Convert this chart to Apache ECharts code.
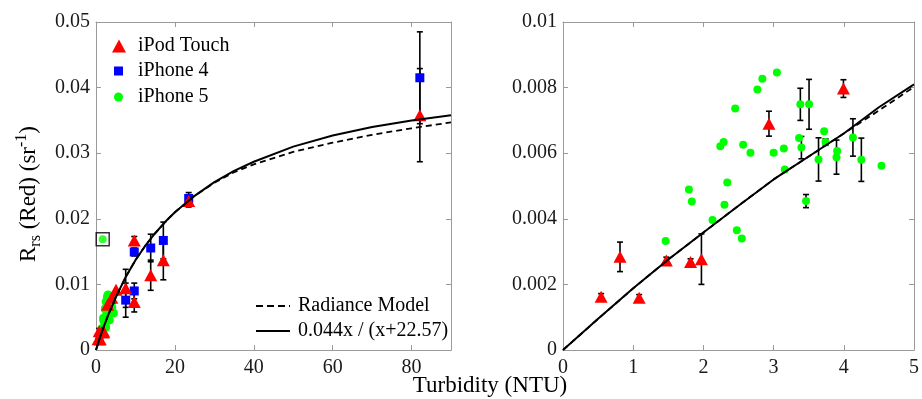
<!DOCTYPE html>
<html><head><meta charset="utf-8">
<script src="https://cdn.jsdelivr.net/npm/echarts@6/dist/echarts.min.js"></script>
<style>html,body{margin:0;padding:0;background:#fff}#c{width:922px;height:399px}</style>
</head><body><div id="c"></div>
<script>
// ---------- data ----------
const ipodX   = [0.543, 0.812, 1.085, 1.472, 1.817, 1.972, 2.934, 3.995, 5.07, 7.53, 9.7, 9.7, 13.87, 17.07, 23.5, 82.1];
const ipodY   = [0.00162, 0.00284, 0.00159, 0.00273, 0.00268, 0.00277, 0.0069, 0.00797, 0.0092, 0.0094, 0.0073, 0.0167, 0.0114, 0.0137, 0.0227, 0.0358];
const ipodErr = [0.0001, 0.00045, 0.0001, 0.0001, 0.0001, 0.00077, 0.00038, 0.00027, 0, 0.0029, 0.0015, 0.0006, 0.0023, 0.003, 0.0009, 0.0071];

const ip4X   = [7.53, 9.7, 9.7, 13.87, 17.07, 23.5, 82.1];
const ip4Y   = [0.0076, 0.009, 0.01494, 0.01555, 0.0167, 0.0231, 0.0415];
const ip4Err = [0.0026, 0.0012, 0.0006, 0.0021, 0.0028, 0.0009, 0.007];

const ip5X   = [1.462, 1.793, 1.835, 2.13, 2.241, 2.288, 2.30, 2.34, 2.453, 2.476, 2.547, 2.566, 2.67, 2.769, 2.84, 3.0,
                3.047, 3.146, 3.16, 3.363, 3.381, 3.396, 3.462, 3.505, 3.64, 3.72, 3.74, 3.905, 3.896, 4.13, 4.25, 4.537];
const ip5Y   = [0.00332, 0.00489, 0.00453, 0.00396, 0.00621, 0.00634, 0.00443, 0.00511, 0.00736, 0.00365, 0.0034, 0.00626, 0.00601, 0.00794, 0.00827, 0.00601,
                0.00846, 0.00614, 0.0055, 0.00646, 0.00749, 0.00617, 0.00454, 0.00749, 0.00581, 0.00667, 0.00634, 0.00607, 0.00588, 0.00648, 0.0058, 0.00562];
const ip5Err = [0, 0, 0, 0, 0, 0, 0, 0, 0, 0, 0, 0, 0, 0, 0, 0,
                0, 0, 0, 0, 0.00049, 0.00034, 0.0002, 0.00076, 0.00066, 0, 0.0001, 0, 0.00052, 0.00057, 0.00066, 0];

const outlierX = [1.7];
const outlierY = [0.0169];

const curveX  = [0, 1, 2, 3, 5, 7.5, 10, 12.5, 15, 17.5, 20, 25, 30, 35, 40, 50, 60, 70, 80, 90];
const fitY    = [0, 0.0019, 0.0036, 0.0052, 0.0080, 0.0111, 0.0137, 0.0159, 0.0178, 0.0195, 0.0210, 0.0235, 0.0256, 0.0273, 0.0287, 0.0310, 0.0327, 0.0340, 0.0350, 0.0358];
const modelY  = [0, 0.0019, 0.0036, 0.0052, 0.0080, 0.0111, 0.0137, 0.0159, 0.0178, 0.0195, 0.0210, 0.0235, 0.0255, 0.0271, 0.0283, 0.0302, 0.0316, 0.0328, 0.0338, 0.0347];

const curveXR = [0, 0.5, 1, 1.5, 2, 2.5, 3, 3.5, 4, 4.5, 5];
const fitYR   = [0, 0.00095, 0.00188, 0.00276, 0.00358, 0.0044, 0.0052, 0.0059, 0.0066, 0.0074, 0.0081];
const modelYR = [0, 0.00095, 0.00188, 0.00276, 0.00358, 0.0044, 0.0052, 0.0059, 0.0066, 0.0073, 0.00802];

const xTicksL = [0, 20, 40, 60, 80];
const xLabelsL = ['0', '20', '40', '60', '80'];
const yTicksL = [0, 0.01, 0.02, 0.03, 0.04, 0.05];
const yLabelsL = ['0', '0.01', '0.02', '0.03', '0.04', '0.05'];
const xTicksR = [0, 1, 2, 3, 4, 5];
const xLabelsR = ['0', '1', '2', '3', '4', '5'];
const yTicksR = [0, 0.002, 0.004, 0.006, 0.008, 0.01];
const yLabelsR = ['0', '0.002', '0.004', '0.006', '0.008', '0.01'];

// ---------- helpers ----------
const FONT = 'Liberation Serif';
const AXC = '#9a9a9a';
const TXT = '#1a1a1a';
function zip(xs, ys) { return xs.map((x, i) => [x, ys[i]]); }
function zip3(xs, ys, es) { return xs.map((x, i) => [x, ys[i], es[i]]); }
function inRight(p) { return p[0] <= 5 && p[1] <= 0.01; }
function fmt(ticks, labels) {
  return function (v) {
    for (let i = 0; i < ticks.length; i++) if (Math.abs(v - ticks[i]) < 1e-9) return labels[i];
    return '';
  };
}
function errRender(params, api) {
  const x = api.value(0), y = api.value(1), e = api.value(2);
  if (!e) return null;
  const t = api.coord([x, y + e]);
  const b = api.coord([x, y - e]);
  const c = 3;
  const st = { stroke: '#000', lineWidth: 1.6 };
  return { type: 'group', children: [
    { type: 'line', shape: { x1: t[0], y1: t[1], x2: b[0], y2: b[1] }, style: st },
    { type: 'line', shape: { x1: t[0] - c, y1: t[1], x2: t[0] + c, y2: t[1] }, style: st },
    { type: 'line', shape: { x1: b[0] - c, y1: b[1], x2: b[0] + c, y2: b[1] }, style: st }
  ]};
}
function mainX(grid, min, max, interval, ticks, labels, hideMax) {
  return { type: 'value', gridIndex: grid, min: min, max: max, interval: interval, position: 'bottom',
    axisLine: { show: true, onZero: false, lineStyle: { color: AXC, width: 1 } },
    axisTick: { show: true, inside: true, length: 5, lineStyle: { color: AXC } },
    axisLabel: { show: true, margin: 8, color: TXT, fontFamily: FONT, fontSize: 20, formatter: fmt(ticks, labels), showMaxLabel: !hideMax },
    splitLine: { show: false } };
}
function mainY(grid, min, max, interval, ticks, labels) {
  return { type: 'value', gridIndex: grid, min: min, max: max, interval: interval, position: 'left',
    axisLine: { show: true, onZero: false, lineStyle: { color: AXC, width: 1 } },
    axisTick: { show: true, inside: true, length: 5, lineStyle: { color: AXC } },
    axisLabel: { show: true, margin: 6, color: TXT, fontFamily: FONT, fontSize: 20, formatter: fmt(ticks, labels) },
    splitLine: { show: false } };
}
function mirror(kind, grid, min, max, interval) {
  return { type: 'value', gridIndex: grid, min: min, max: max, interval: interval,
    position: kind === 'x' ? 'top' : 'right',
    axisLine: { show: true, onZero: false, lineStyle: { color: AXC, width: 1 } },
    axisTick: { show: true, inside: true, length: 5, lineStyle: { color: AXC } },
    axisLabel: { show: false }, splitLine: { show: false } };
}

const yL = mainY(0, 0, 0.05, 0.01, yTicksL, yLabelsL);
yL.name = '{a|R}{b|rs}{a| (Red) (sr}{c|-1}{a|)}';
yL.nameLocation = 'middle';
yL.nameGap = 52;
yL.nameRotate = 90;
yL.nameTextStyle = {
  color: '#000', fontFamily: FONT, padding: [0, 16, 0, 0],
  rich: {
    a: { fontFamily: FONT, fontSize: 23, lineHeight: 30, color: '#000' },
    b: { fontFamily: FONT, fontSize: 16, lineHeight: 15, verticalAlign: 'bottom', color: '#000' },
    c: { fontFamily: FONT, fontSize: 16, lineHeight: 15, verticalAlign: 'top', color: '#000' }
  }
};

const red = '#ff0000', blue = '#0000ff', green = '#00ff00';

function panelSeries(xi, yi, filt, cx, fy, my) {
  const f = filt ? (arr) => arr.filter(inRight) : (arr) => arr;
  return [
    { type: 'custom', name: 'errIpod', xAxisIndex: xi, yAxisIndex: yi, renderItem: errRender, data: f(zip3(ipodX, ipodY, ipodErr)), z: 2, silent: true },
    { type: 'custom', name: 'errIp4', xAxisIndex: xi, yAxisIndex: yi, renderItem: errRender, data: f(zip3(ip4X, ip4Y, ip4Err)), z: 2, silent: true },
    { type: 'custom', name: 'errIp5', xAxisIndex: xi, yAxisIndex: yi, renderItem: errRender, data: f(zip3(ip5X, ip5Y, ip5Err)), z: 2, silent: true },
    { type: 'scatter', name: 'iPhone 5', xAxisIndex: xi, yAxisIndex: yi, symbol: 'circle', symbolSize: 8, itemStyle: { color: green, opacity: 1 }, data: f(zip(ip5X, ip5Y)), z: 3 },
    { type: 'scatter', name: 'iPhone 4', xAxisIndex: xi, yAxisIndex: yi, symbol: 'rect', symbolSize: 9, itemStyle: { color: blue, opacity: 1 }, data: f(zip(ip4X, ip4Y)), z: 3 },
    { type: 'scatter', name: 'iPod Touch', xAxisIndex: xi, yAxisIndex: yi, symbol: 'triangle', symbolSize: [13, 12], itemStyle: { color: red, opacity: 1 }, data: f(zip(ipodX, ipodY)), z: 4 },
    { type: 'scatter', name: 'outlierBox', xAxisIndex: xi, yAxisIndex: yi, symbol: 'rect', symbolSize: 13, itemStyle: { color: 'rgba(0,0,0,0)', borderColor: '#000', borderWidth: 1.5 }, data: f(zip(outlierX, outlierY)), z: 3 },
    { type: 'scatter', name: 'outlierPt', xAxisIndex: xi, yAxisIndex: yi, symbol: 'circle', symbolSize: 8, itemStyle: { color: green }, data: f(zip(outlierX, outlierY)), z: 3 },
    { type: 'line', name: 'Radiance Model', xAxisIndex: xi, yAxisIndex: yi, symbol: 'none', smooth: false, itemStyle: { color: '#000' }, lineStyle: { color: '#000', width: 1.8, type: [6, 4] }, data: zip(cx, my), z: 5 },
    { type: 'line', name: '0.044x / (x+22.57)', xAxisIndex: xi, yAxisIndex: yi, symbol: 'none', smooth: false, itemStyle: { color: '#000' }, lineStyle: { color: '#000', width: 2 }, data: zip(cx, fy), z: 6 }
  ];
}

const legendBase = { orient: 'vertical', padding: 0, selectedMode: false, itemGap: 5 };
function leg(name, left, top, w, h, pad, icon) {
  const item = { name: name };
  if (icon) { item.icon = icon; item.itemStyle = { color: '#000' }; }
  return Object.assign({}, legendBase, { data: [item], left: left, top: top, itemWidth: w, itemHeight: h,
    symbolKeepAspect: false,
    textStyle: { fontFamily: FONT, fontSize: 20, color: '#000', padding: [0, 0, 0, pad] } });
}
const dashIcon = 'path://M0,0h7v2h-7z M11,0h7v2h-7z M22,0h7v2h-7z M33,0h1v2h-1z';
const solidIcon = 'path://M0,0h34v2h-34z';

const option = {
  animation: false,
  backgroundColor: '#fff',
  grid: [
    { left: 96, right: 471, top: 22, bottom: 49 },
    { left: 563, right: 5, top: 22, bottom: 49 }
  ],
  xAxis: [
    mainX(0, 0, 90, 20, xTicksL, xLabelsL, true),
    mainX(1, 0, 5, 1, xTicksR, xLabelsR, false),
    mirror('x', 0, 0, 90, 20),
    mirror('x', 1, 0, 5, 1)
  ],
  yAxis: [
    yL,
    mainY(1, 0, 0.01, 0.002, yTicksR, yLabelsR),
    mirror('y', 0, 0, 0.05, 0.01),
    mirror('y', 1, 0, 0.01, 0.002)
  ],
  legend: [
    leg('iPod Touch', 112, 36, 14, 13, 7),
    leg('iPhone 4', 114, 61, 9, 9, 10),
    leg('iPhone 5', 114, 87, 9, 9, 10),
    leg('Radiance Model', 256, 296, 34, 2, 3, dashIcon),
    leg('0.044x / (x+22.57)', 256, 321, 34, 2, 3, solidIcon)
  ],
  graphic: [
    { type: 'text', x: 490, y: 386, style: { text: 'Turbidity (NTU)', fontFamily: FONT, fontSize: 23, fill: '#000', align: 'center', verticalAlign: 'middle' } }
  ],
  series: [].concat(
    panelSeries(0, 0, false, curveX, fitY, modelY),
    panelSeries(1, 1, true, curveXR, fitYR, modelYR)
  )
};

const chart = echarts.init(document.getElementById('c'), null, { renderer: 'canvas' });
chart.setOption(option);
</script>
</body></html>
